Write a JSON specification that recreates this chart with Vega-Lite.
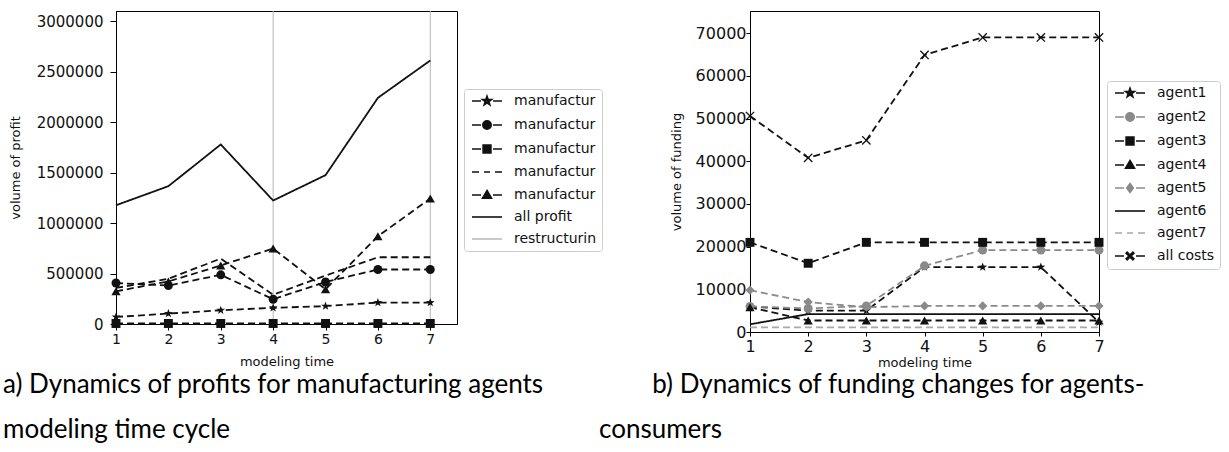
{
  "$schema": "https://vega.github.io/schema/vega-lite/v6.json",
  "padding": {"left": 2, "top": 10, "right": 0, "bottom": 0},
  "background": "#ffffff",
  "datasets": {
    "left": [
      {"t": 1, "series": "manufacturer1", "v": 70000}, {"t": 2, "series": "manufacturer1", "v": 103000}, {"t": 3, "series": "manufacturer1", "v": 136000}, {"t": 4, "series": "manufacturer1", "v": 160000}, {"t": 5, "series": "manufacturer1", "v": 177000}, {"t": 6, "series": "manufacturer1", "v": 212000}, {"t": 7, "series": "manufacturer1", "v": 212000},
      {"t": 1, "series": "manufacturer2", "v": 406000}, {"t": 2, "series": "manufacturer2", "v": 381000}, {"t": 3, "series": "manufacturer2", "v": 487000}, {"t": 4, "series": "manufacturer2", "v": 245000}, {"t": 5, "series": "manufacturer2", "v": 416000}, {"t": 6, "series": "manufacturer2", "v": 540000}, {"t": 7, "series": "manufacturer2", "v": 540000},
      {"t": 1, "series": "manufacturer3", "v": 5000}, {"t": 2, "series": "manufacturer3", "v": 5000}, {"t": 3, "series": "manufacturer3", "v": 5000}, {"t": 4, "series": "manufacturer3", "v": 5000}, {"t": 5, "series": "manufacturer3", "v": 5000}, {"t": 6, "series": "manufacturer3", "v": 5000}, {"t": 7, "series": "manufacturer3", "v": 5000},
      {"t": 1, "series": "manufacturer4", "v": 357000}, {"t": 2, "series": "manufacturer4", "v": 448000}, {"t": 3, "series": "manufacturer4", "v": 648000}, {"t": 4, "series": "manufacturer4", "v": 290000}, {"t": 5, "series": "manufacturer4", "v": 480000}, {"t": 6, "series": "manufacturer4", "v": 661000}, {"t": 7, "series": "manufacturer4", "v": 661000},
      {"t": 1, "series": "manufacturer5", "v": 324000}, {"t": 2, "series": "manufacturer5", "v": 421000}, {"t": 3, "series": "manufacturer5", "v": 580000}, {"t": 4, "series": "manufacturer5", "v": 747000}, {"t": 5, "series": "manufacturer5", "v": 345000}, {"t": 6, "series": "manufacturer5", "v": 869000}, {"t": 7, "series": "manufacturer5", "v": 1243000},
      {"t": 1, "series": "all profit", "v": 1176000}, {"t": 2, "series": "all profit", "v": 1365000}, {"t": 3, "series": "all profit", "v": 1778000}, {"t": 4, "series": "all profit", "v": 1223000}, {"t": 5, "series": "all profit", "v": 1474000}, {"t": 6, "series": "all profit", "v": 2240000}, {"t": 7, "series": "all profit", "v": 2610000},
      {"t": 4, "series": "restructuring"}, {"t": 7, "series": "restructuring"}
    ],
    "right": [
      {"t": 1, "series": "agent1", "v": 6000}, {"t": 2, "series": "agent1", "v": 5000}, {"t": 3, "series": "agent1", "v": 5000}, {"t": 4, "series": "agent1", "v": 15200}, {"t": 5, "series": "agent1", "v": 15200}, {"t": 6, "series": "agent1", "v": 15200}, {"t": 7, "series": "agent1", "v": 2300},
      {"t": 1, "series": "agent2", "v": 6000}, {"t": 2, "series": "agent2", "v": 5500}, {"t": 3, "series": "agent2", "v": 6100}, {"t": 4, "series": "agent2", "v": 15500}, {"t": 5, "series": "agent2", "v": 19200}, {"t": 6, "series": "agent2", "v": 19200}, {"t": 7, "series": "agent2", "v": 19200},
      {"t": 1, "series": "agent3", "v": 21000}, {"t": 2, "series": "agent3", "v": 16100}, {"t": 3, "series": "agent3", "v": 21000}, {"t": 4, "series": "agent3", "v": 21000}, {"t": 5, "series": "agent3", "v": 21000}, {"t": 6, "series": "agent3", "v": 21000}, {"t": 7, "series": "agent3", "v": 21000},
      {"t": 1, "series": "agent4", "v": 5800}, {"t": 2, "series": "agent4", "v": 2700}, {"t": 3, "series": "agent4", "v": 2700}, {"t": 4, "series": "agent4", "v": 2700}, {"t": 5, "series": "agent4", "v": 2700}, {"t": 6, "series": "agent4", "v": 2700}, {"t": 7, "series": "agent4", "v": 2700},
      {"t": 1, "series": "agent5", "v": 9800}, {"t": 2, "series": "agent5", "v": 7000}, {"t": 3, "series": "agent5", "v": 5800}, {"t": 4, "series": "agent5", "v": 6100}, {"t": 5, "series": "agent5", "v": 6100}, {"t": 6, "series": "agent5", "v": 6100}, {"t": 7, "series": "agent5", "v": 6100},
      {"t": 1, "series": "agent6", "v": 1800}, {"t": 2, "series": "agent6", "v": 4200}, {"t": 3, "series": "agent6", "v": 4200}, {"t": 4, "series": "agent6", "v": 4200}, {"t": 5, "series": "agent6", "v": 4200}, {"t": 6, "series": "agent6", "v": 4200}, {"t": 7, "series": "agent6", "v": 4200},
      {"t": 1, "series": "agent7", "v": 1100}, {"t": 2, "series": "agent7", "v": 1100}, {"t": 3, "series": "agent7", "v": 1100}, {"t": 4, "series": "agent7", "v": 1100}, {"t": 5, "series": "agent7", "v": 1100}, {"t": 6, "series": "agent7", "v": 1100}, {"t": 7, "series": "agent7", "v": 1100},
      {"t": 1, "series": "all costs", "v": 50600}, {"t": 2, "series": "all costs", "v": 40800}, {"t": 3, "series": "all costs", "v": 44900}, {"t": 4, "series": "all costs", "v": 64900}, {"t": 5, "series": "all costs", "v": 69000}, {"t": 6, "series": "all costs", "v": 69000}, {"t": 7, "series": "all costs", "v": 69000}
    ]
  },
  "hconcat": [
    {
      "width": 341,
      "height": 313,
      "data": {"name": "left"},
      "title": {
        "text": ["a) Dynamics of profits for manufacturing agents", "modeling time cycle"],
        "orient": "bottom", "anchor": "start", "frame": "group", "dx": -113, "offset": 4
      },
      "layer": [
        {
          "transform": [{"filter": "datum.series == 'restructuring'"}],
          "mark": {"type": "rule", "color": "#b5b5b5", "strokeWidth": 1},
          "encoding": {
            "x": {"field": "t", "type": "quantitative", "scale": {"domain": [1, 7.51], "nice": false, "zero": false},
                  "axis": {"title": "modeling time", "values": [1, 2, 3, 4, 5, 6, 7], "format": "d", "titlePadding": 9, "labelPadding": 2, "tickSize": 6}}
          }
        },
        {
          "transform": [{"filter": "datum.series != 'restructuring'"}],
          "mark": {"type": "line", "strokeWidth": 1.8},
          "encoding": {
            "x": {"field": "t", "type": "quantitative"},
            "y": {"field": "v", "type": "quantitative", "scale": {"domain": [0, 3100000], "nice": false},
                  "axis": {"title": "volume of profit", "values": [0, 500000, 1000000, 1500000, 2000000, 2500000, 3000000], "format": "d", "titlePadding": 14, "labelPadding": 7, "tickSize": 6, "labelFontSize": 15}},
            "color": {"field": "series", "type": "nominal", "legend": null,
                      "scale": {"domain": ["all profit", "manufacturer1", "manufacturer2", "manufacturer3", "manufacturer4", "manufacturer5"], "range": ["#111", "#111", "#111", "#111", "#111", "#111"]}},
            "strokeDash": {"field": "series", "type": "nominal", "legend": null,
                      "scale": {"domain": ["all profit", "manufacturer1", "manufacturer2", "manufacturer3", "manufacturer4", "manufacturer5"], "range": [[1, 0], [7, 4], [7, 4], [7, 4], [7, 4], [7, 4]]}}
          }
        },
        {
          "transform": [{"filter": "datum.series == 'manufacturer1'"}],
          "mark": {"type": "point", "filled": true, "opacity": 1, "size": 85, "color": "#111", "shape": "M0,-1L0.235,-0.324L0.951,-0.309L0.38,0.124L0.588,0.809L0,0.4L-0.588,0.809L-0.38,0.124L-0.951,-0.309L-0.235,-0.324Z"},
          "encoding": {"x": {"field": "t", "type": "quantitative"}, "y": {"field": "v", "type": "quantitative"}}
        },
        {
          "transform": [{"filter": "datum.series == 'manufacturer2'"}],
          "mark": {"type": "point", "filled": true, "opacity": 1, "size": 80, "color": "#111", "shape": "circle"},
          "encoding": {"x": {"field": "t", "type": "quantitative"}, "y": {"field": "v", "type": "quantitative"}}
        },
        {
          "transform": [{"filter": "datum.series == 'manufacturer3'"}],
          "mark": {"type": "point", "filled": true, "opacity": 1, "size": 80, "color": "#111", "shape": "square"},
          "encoding": {"x": {"field": "t", "type": "quantitative"}, "y": {"field": "v", "type": "quantitative"}}
        },
        {
          "transform": [{"filter": "datum.series == 'manufacturer5'"}],
          "mark": {"type": "point", "filled": true, "opacity": 1, "size": 85, "color": "#111", "shape": "triangle-up"},
          "encoding": {"x": {"field": "t", "type": "quantitative"}, "y": {"field": "v", "type": "quantitative"}}
        },
        {
          "transform": [{"filter": "datum.t < 0"}],
          "mark": {"type": "point", "filled": true},
          "encoding": {
            "x": {"field": "t", "type": "quantitative"},
            "y": {"field": "v", "type": "quantitative"},
            "shape": {"field": "series", "type": "nominal",
                      "scale": {"domain": ["manufacturer1", "manufacturer2", "manufacturer3", "manufacturer4", "manufacturer5", "all profit", "restructuring"],
                                "range": [
                                  "M-1.33,0H1.67M5.67,0H8.67M3.67,-1.6L4.05,-0.53L5.19,-0.49L4.29,0.2L4.61,1.29L3.67,0.65L2.73,1.29L3.05,0.2L2.15,-0.49L3.29,-0.53Z",
                                  "M-1.33,0H1.67M5.67,0H8.67M2.27,0A1.4,1.4,0,1,0,5.07,0A1.4,1.4,0,1,0,2.27,0Z",
                                  "M-1.33,0H1.67M5.67,0H8.67M2.37,-1.3H4.97V1.3H2.37Z",
                                  "M-1.33,0H1M2.67,0H4.67M6.33,0H8.67",
                                  "M-1.33,0H1.67M5.67,0H8.67M3.67,-1.5L5.17,1.1H2.17Z",
                                  "M-1.33,0H8.67",
                                  "M-1.33,0H8.67"]},
                      "legend": {"orient": "none", "legendX": 348, "legendY": 78, "title": null,
                                 "labelExpr": "datum.label == 'restructuring' ? 'restructurin' : (indexof(datum.label, 'manufacturer') == 0 ? 'manufactur' : datum.label)"}},
            "fill": {"field": "series", "type": "nominal",
                     "scale": {"domain": ["manufacturer1", "manufacturer2", "manufacturer3", "manufacturer4", "manufacturer5", "all profit", "restructuring"], "range": ["#111", "#111", "#111", "#111", "#111", "#111", "#bbbbbb"]},
                     "legend": {"orient": "none", "legendX": 348, "legendY": 78, "title": null,
                                "labelExpr": "datum.label == 'restructuring' ? 'restructurin' : (indexof(datum.label, 'manufacturer') == 0 ? 'manufactur' : datum.label)"}},
            "stroke": {"field": "series", "type": "nominal",
                     "scale": {"domain": ["manufacturer1", "manufacturer2", "manufacturer3", "manufacturer4", "manufacturer5", "all profit", "restructuring"], "range": ["#111", "#111", "#111", "#111", "#111", "#111", "#bbbbbb"]},
                     "legend": {"orient": "none", "legendX": 348, "legendY": 78, "title": null,
                                "labelExpr": "datum.label == 'restructuring' ? 'restructurin' : (indexof(datum.label, 'manufacturer') == 0 ? 'manufactur' : datum.label)"}}
          }
        }
      ]
    },
    {
      "width": 349,
      "height": 321,
      "data": {"name": "right"},
      "title": {
        "text": ["\u200b\u00a0\u00a0\u00a0\u00a0\u00a0\u00a0\u00a0\u00a0b) Dynamics of funding changes for agents-", "consumers"],
        "orient": "bottom", "anchor": "start", "frame": "group", "dx": -151, "offset": 3
      },
      "layer": [
        {
          "mark": {"type": "line", "strokeWidth": 1.8},
          "encoding": {
            "x": {"field": "t", "type": "quantitative", "scale": {"domain": [1, 7], "nice": false, "zero": false},
                  "axis": {"title": "modeling time", "values": [1, 2, 3, 4, 5, 6, 7], "format": "d", "titlePadding": 2, "labelPadding": 2, "tickSize": 4, "labelFontSize": 16}},
            "y": {"field": "v", "type": "quantitative", "scale": {"domain": [0, 75200], "nice": false},
                  "axis": {"title": "volume of funding", "values": [0, 10000, 20000, 30000, 40000, 50000, 60000, 70000], "format": "d", "titlePadding": 12, "labelPadding": 0, "tickSize": 4, "labelFontSize": 16}},
            "color": {"field": "series", "type": "nominal", "legend": null,
                      "scale": {"domain": ["all costs", "agent1", "agent2", "agent3", "agent4", "agent5", "agent6", "agent7"], "range": ["#111", "#111", "#8a8a8a", "#111", "#111", "#8a8a8a", "#111", "#a8a8a8"]}},
            "strokeDash": {"field": "series", "type": "nominal", "legend": null,
                      "scale": {"domain": ["all costs", "agent1", "agent2", "agent3", "agent4", "agent5", "agent6", "agent7"], "range": [[7, 4], [7, 4], [7, 4], [7, 4], [7, 4], [7, 4], [1, 0], [7, 4]]}}
          }
        },
        {
          "transform": [{"filter": "datum.series == 'agent1'"}],
          "mark": {"type": "point", "filled": true, "opacity": 1, "size": 85, "color": "#111", "shape": "M0,-1L0.235,-0.324L0.951,-0.309L0.38,0.124L0.588,0.809L0,0.4L-0.588,0.809L-0.38,0.124L-0.951,-0.309L-0.235,-0.324Z"},
          "encoding": {"x": {"field": "t", "type": "quantitative"}, "y": {"field": "v", "type": "quantitative"}}
        },
        {
          "transform": [{"filter": "datum.series == 'agent2'"}],
          "mark": {"type": "point", "filled": true, "opacity": 1, "size": 80, "color": "#8a8a8a", "shape": "circle"},
          "encoding": {"x": {"field": "t", "type": "quantitative"}, "y": {"field": "v", "type": "quantitative"}}
        },
        {
          "transform": [{"filter": "datum.series == 'agent3'"}],
          "mark": {"type": "point", "filled": true, "opacity": 1, "size": 80, "color": "#111", "shape": "square"},
          "encoding": {"x": {"field": "t", "type": "quantitative"}, "y": {"field": "v", "type": "quantitative"}}
        },
        {
          "transform": [{"filter": "datum.series == 'agent4'"}],
          "mark": {"type": "point", "filled": true, "opacity": 1, "size": 85, "color": "#111", "shape": "triangle-up"},
          "encoding": {"x": {"field": "t", "type": "quantitative"}, "y": {"field": "v", "type": "quantitative"}}
        },
        {
          "transform": [{"filter": "datum.series == 'agent5'"}],
          "mark": {"type": "point", "filled": true, "opacity": 1, "size": 85, "color": "#8a8a8a", "shape": "diamond"},
          "encoding": {"x": {"field": "t", "type": "quantitative"}, "y": {"field": "v", "type": "quantitative"}}
        },
        {
          "transform": [{"filter": "datum.series == 'all costs'"}],
          "mark": {"type": "point", "filled": true, "opacity": 1, "size": 85, "color": "#111", "shape": "M0,-0.2L0.8,-1L1,-0.8L0.2,0L1,0.8L0.8,1L0,0.2L-0.8,1L-1,0.8L-0.2,0L-1,-0.8L-0.8,-1Z"},
          "encoding": {"x": {"field": "t", "type": "quantitative"}, "y": {"field": "v", "type": "quantitative"}}
        },
        {
          "transform": [{"filter": "datum.t < 0"}],
          "mark": {"type": "point", "filled": true},
          "encoding": {
            "x": {"field": "t", "type": "quantitative"},
            "y": {"field": "v", "type": "quantitative"},
            "shape": {"field": "series", "type": "nominal",
                      "scale": {"domain": ["agent1", "agent2", "agent3", "agent4", "agent5", "agent6", "agent7", "all costs"],
                                "range": [
                                  "M-1.33,0H1.67M5.67,0H8.67M3.67,-1.6L4.05,-0.53L5.19,-0.49L4.29,0.2L4.61,1.29L3.67,0.65L2.73,1.29L3.05,0.2L2.15,-0.49L3.29,-0.53Z",
                                  "M-1.33,0H1.67M5.67,0H8.67M2.27,0A1.4,1.4,0,1,0,5.07,0A1.4,1.4,0,1,0,2.27,0Z",
                                  "M-1.33,0H1.67M5.67,0H8.67M2.37,-1.3H4.97V1.3H2.37Z",
                                  "M-1.33,0H1.67M5.67,0H8.67M3.67,-1.5L5.17,1.1H2.17Z",
                                  "M-1.33,0H1.67M5.67,0H8.67M3.67,-1.5L4.77,0L3.67,1.5L2.57,0Z",
                                  "M-1.33,0H8.67",
                                  "M-1.33,0H1M2.67,0H4.67M6.33,0H8.67",
                                  "M-1.33,0H1.67M5.67,0H8.67M3.67,-0.35L4.62,-1.3L4.97,-0.95L4.02,0L4.97,0.95L4.62,1.3L3.67,0.35L2.72,1.3L2.37,0.95L3.32,0L2.37,-0.95L2.72,-1.3Z"]},
                      "legend": {"orient": "none", "legendX": 357, "legendY": 70, "title": null}},
            "fill": {"field": "series", "type": "nominal",
                     "scale": {"domain": ["agent1", "agent2", "agent3", "agent4", "agent5", "agent6", "agent7", "all costs"], "range": ["#111", "#8a8a8a", "#111", "#111", "#8a8a8a", "#111", "#a8a8a8", "#111"]},
                     "legend": {"orient": "none", "legendX": 357, "legendY": 70, "title": null}},
            "stroke": {"field": "series", "type": "nominal",
                     "scale": {"domain": ["agent1", "agent2", "agent3", "agent4", "agent5", "agent6", "agent7", "all costs"], "range": ["#111", "#8a8a8a", "#111", "#111", "#8a8a8a", "#111", "#a8a8a8", "#111"]},
                     "legend": {"orient": "none", "legendX": 357, "legendY": 70, "title": null}}
          }
        }
      ]
    }
  ],
  "resolve": {
    "scale": {"color": "independent", "fill": "independent", "stroke": "independent", "shape": "independent", "strokeDash": "independent"},
    "legend": {"color": "independent", "fill": "independent", "stroke": "independent", "shape": "independent", "strokeDash": "independent"}
  },
  "spacing": 293,
  "bounds": "flush",
  "config": {
    "view": {"stroke": "#000", "strokeWidth": 1},
    "axis": {"domainColor": "#000", "tickColor": "#000", "labelColor": "#111", "titleColor": "#111", "labelFont": "DejaVu Sans", "titleFont": "DejaVu Sans", "titleFontWeight": "normal", "grid": false, "tickSize": 5, "labelFontSize": 14, "titleFontSize": 13, "labelFlush": false, "labelOverlap": false},
    "legend": {"labelFont": "DejaVu Sans", "labelFontSize": 14, "labelColor": "#111", "symbolSize": 36, "symbolStrokeWidth": 1.6, "labelOffset": 31, "rowPadding": 8, "padding": 5, "strokeColor": "#cccccc", "fillColor": "#ffffff", "cornerRadius": 3, "symbolOpacity": 1},
    "title": {"font": "Lato", "fontSize": 26, "fontWeight": "normal", "color": "#000", "lineHeight": 45, "baseline": "top"}
  }
}
